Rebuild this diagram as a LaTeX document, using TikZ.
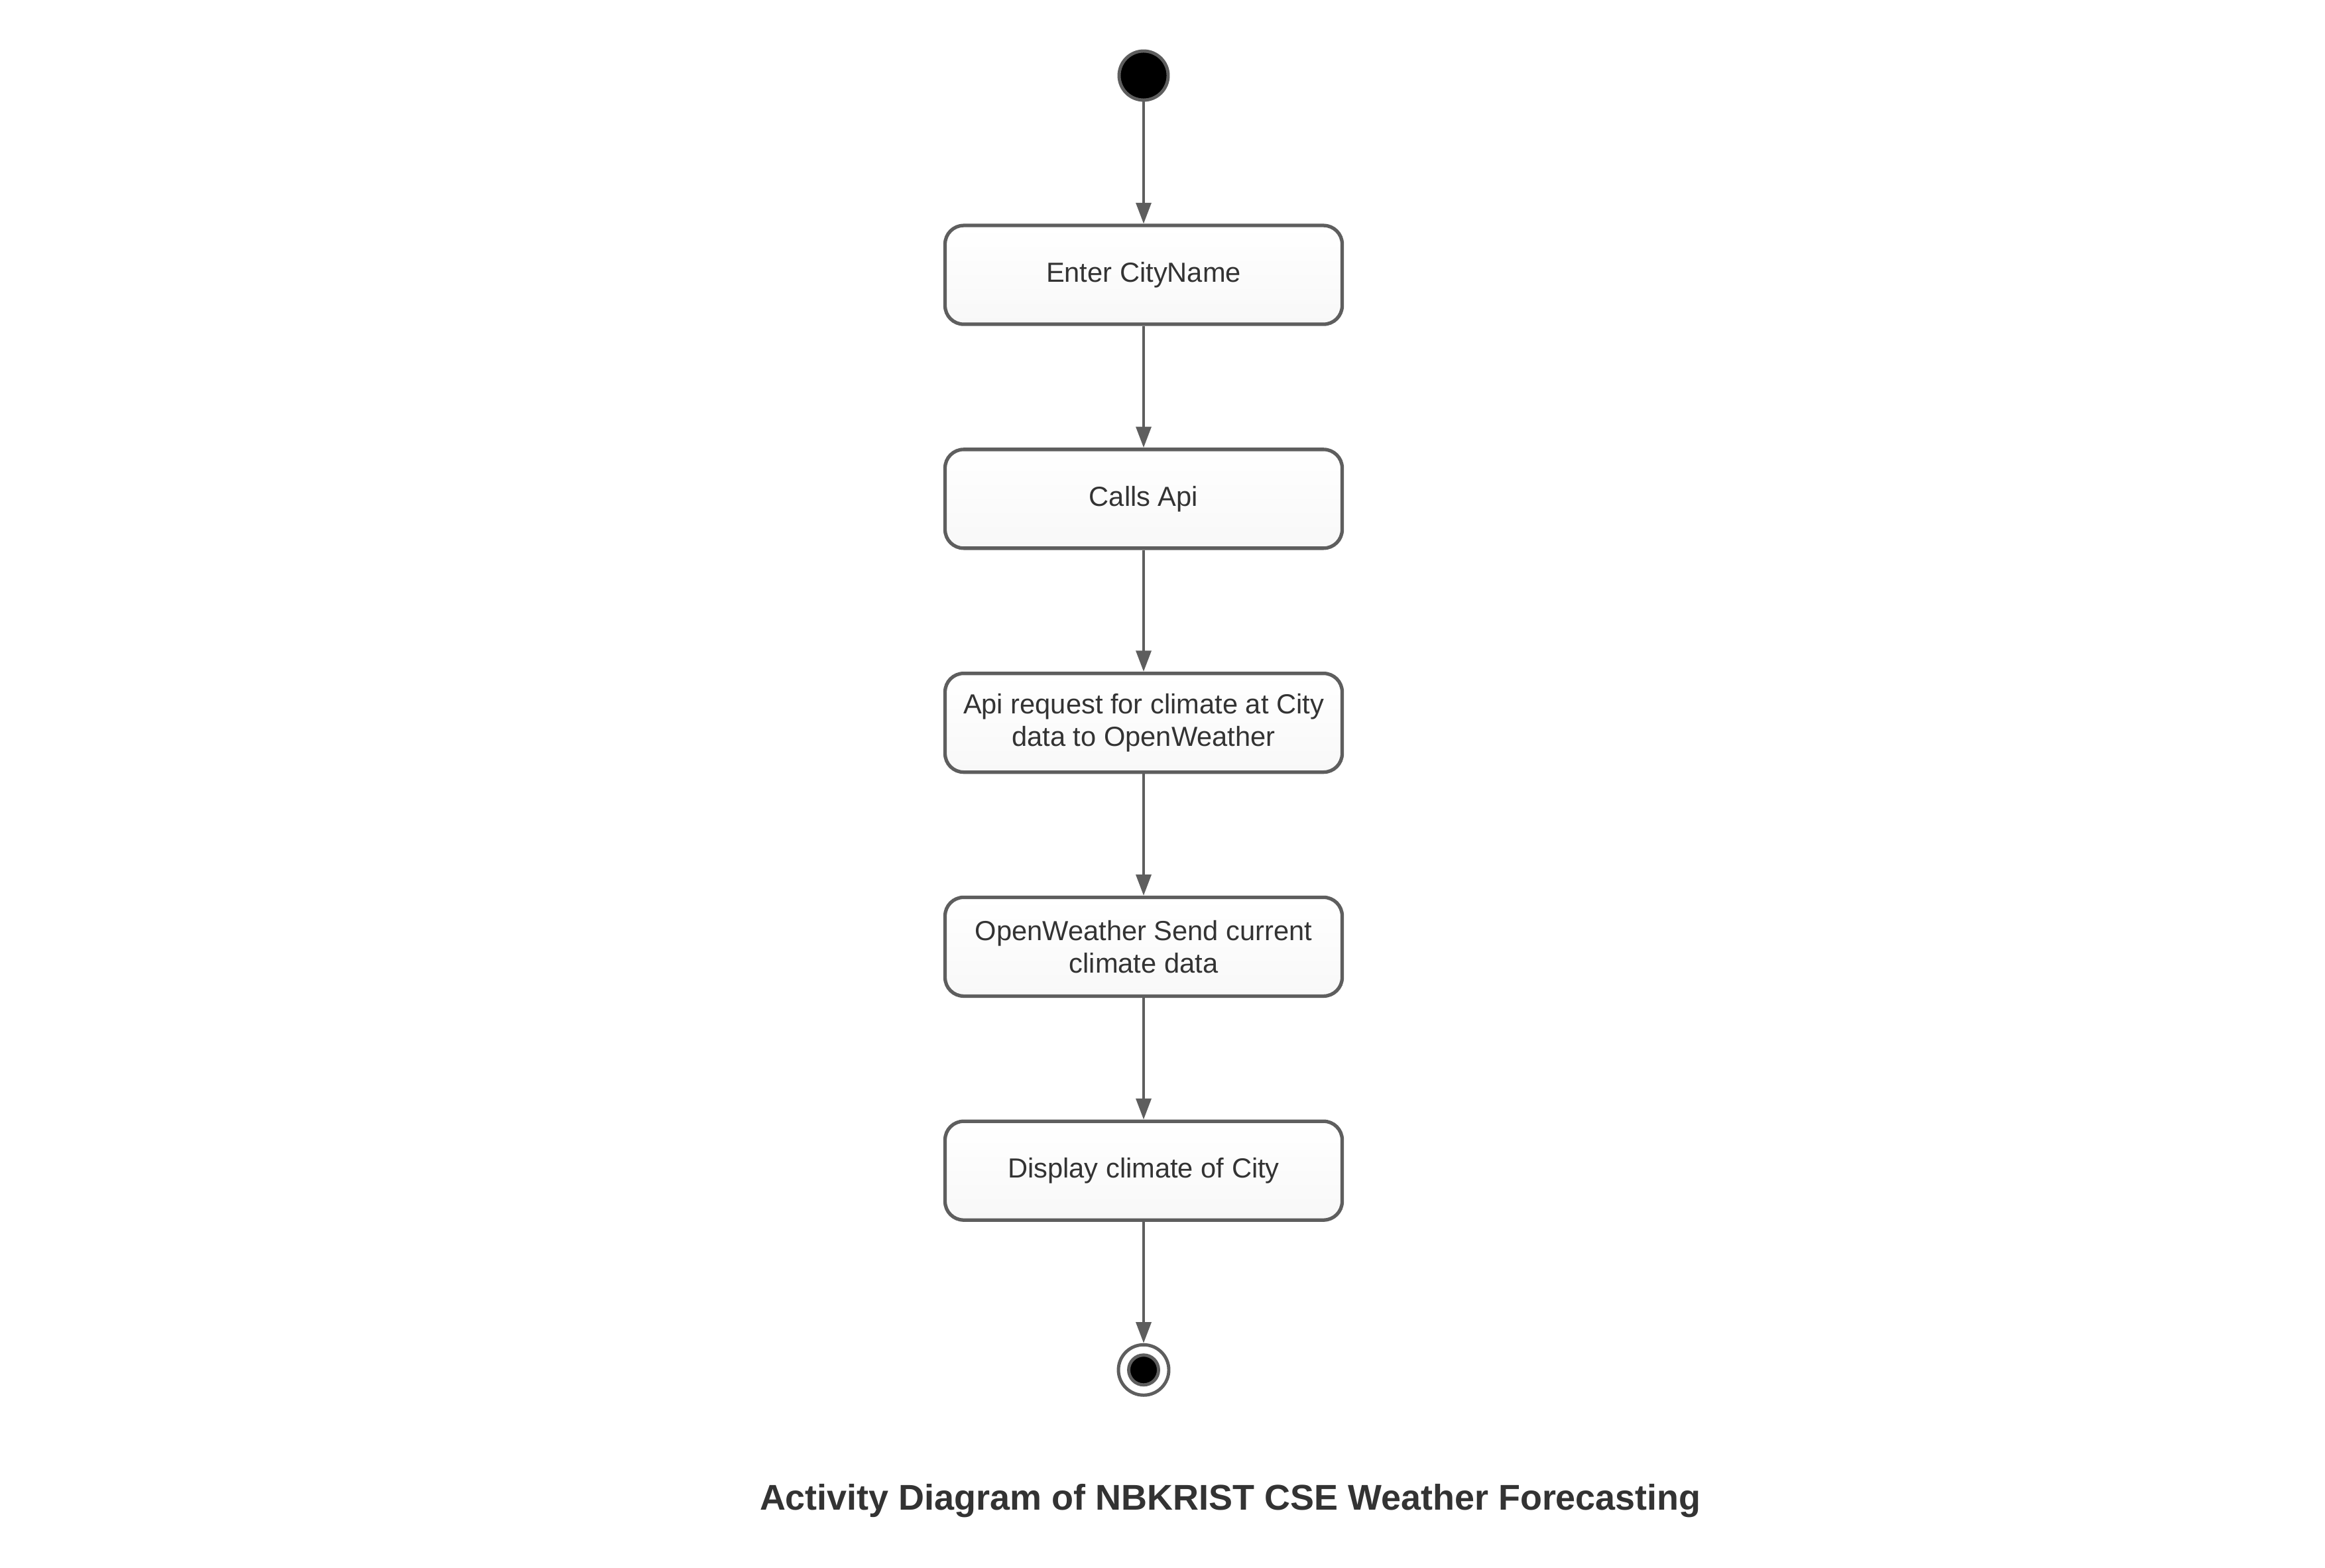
\documentclass[tikz,border=0pt]{standalone}
\usepackage{fontspec}
\setmainfont{Liberation Sans}
\usetikzlibrary{positioning, arrows.meta}
\usetikzlibrary{shapes}
\definecolor{LineGray}{RGB}{94, 94, 94}
\definecolor{TextDark}{RGB}{51, 51, 51}
\definecolor{BoxBottom}{RGB}{248, 248, 248}

\tikzset{
  activity/.style={draw=LineGray, line width=1.5pt, rounded corners=8pt,
    top color=white, bottom color=BoxBottom,
    minimum width=5.99cm, minimum height=1.49cm, align=center,
    font=\fontsize{11.85}{14}\selectfont, text=TextDark},
  initial/.style={circle, fill=black, draw=LineGray, line width=1.4pt,
    minimum size=0.74cm, inner sep=0pt},
  final/.style={circle, fill=white, draw=LineGray, line width=1.4pt,
    minimum size=0.76cm, inner sep=0pt},
  finaldot/.style={circle, fill=black, draw=LineGray, line width=1.4pt,
    minimum size=0.45cm, inner sep=0pt},
  flow/.style={draw=LineGray, line width=1.1pt,
    -{Triangle[length=9pt, width=6.5pt]}}
}

\begin{document}
\begin{tikzpicture}[x=1cm,y=1cm, node distance=1.835cm]
            \useasboundingbox (0,0) rectangle (35.07,-23.65);
            % start and activities
            \node[initial] (start) at (17.25,-1.14) {};
            \node[activity, below=1.84cm of start] (enter) {Enter CityName};
            \node[activity, below=of enter] (calls) {Calls Api};
            \node[activity, below=of calls] (request) {Api request for climate at City\\data to OpenWeather};
            \node[activity, below=of request] (send) {OpenWeather Send current\\climate data};
            \node[activity, below=of send] (display) {Display climate of City};
            \node[final, below=1.83cm of display] (end) {};
            \node[finaldot] (enddot) at (end) {};
            % flows
            \draw[flow] (start) -- (enter);
            \draw[flow] (enter) -- (calls);
            \draw[flow] (calls) -- (request);
            \draw[flow] (request) -- (send);
            \draw[flow] (send) -- (display);
            \draw[flow] (display) -- (end);
            \node[font=\fontsize{15.35}{18}\selectfont\bfseries, text=TextDark, anchor=base] (title) at (18.56,-22.77) {Activity Diagram of NBKRIST CSE Weather Forecasting};
        \end{tikzpicture}
\end{document}
